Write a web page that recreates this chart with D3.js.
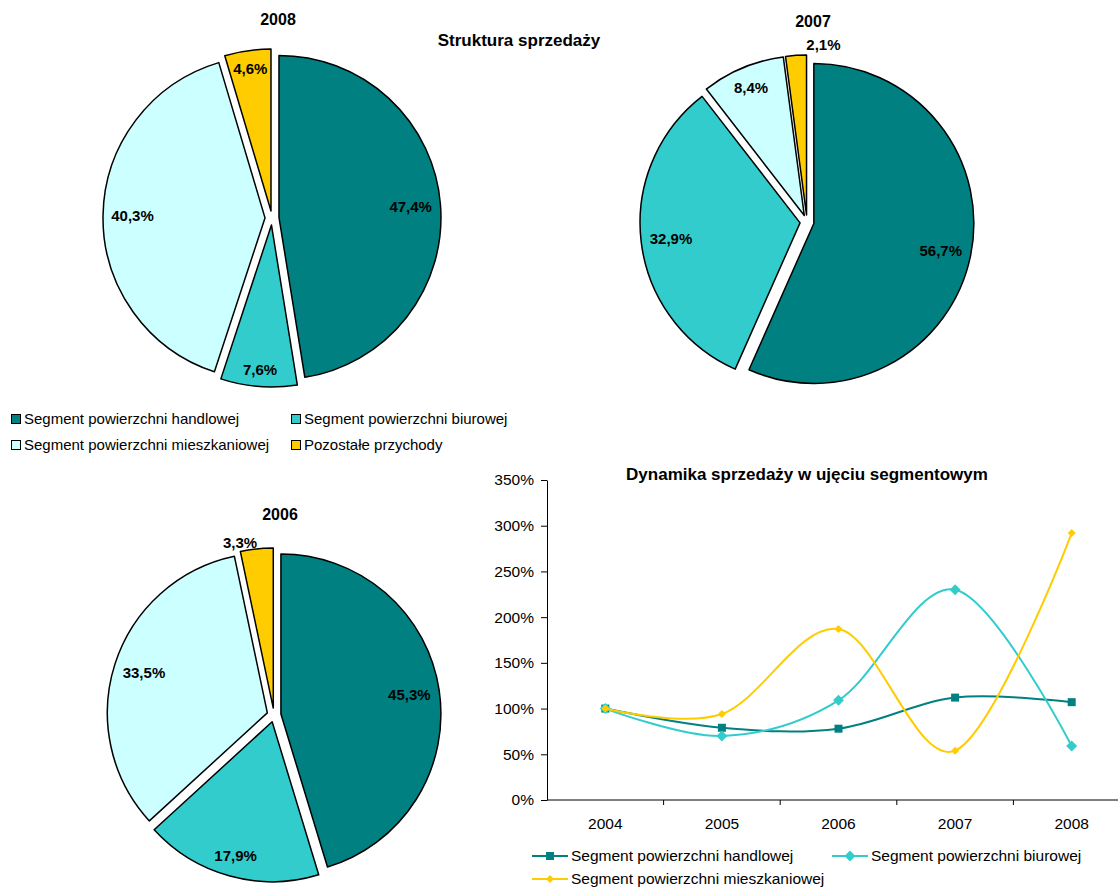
<!DOCTYPE html>
<html>
<head>
<meta charset="utf-8">
<script src="https://cdn.jsdelivr.net/npm/d3@7"></script>
<style>
  body { margin: 0; background: #fff; }
  svg { font-family: Arial, 'Liberation Sans', sans-serif; display: block; }
</style>
</head>
<body>
<div id="graf"></div>
<script>
// !DANE
const segmenty = [
  'Segment powierzchni handlowej',
  'Segment powierzchni biurowej',
  'Segment powierzchni mieszkaniowej',
  'Pozostałe przychody',
]
const udzial2008 = [47.4, 7.6, 40.3, 4.6]
const udzial2007 = [56.7, 32.9, 8.4, 2.1]
const udzial2006 = [45.3, 17.9, 33.5, 3.3]

const lata = ['2004', '2005', '2006', '2007', '2008']
const dynHandlowa = [100, 79, 78, 112, 107]
const dynBiurowa = [100, 70, 109, 230, 59]
const dynMieszkaniowa = [100, 94, 187, 54, 292]
const yTicks = [0, 50, 100, 150, 200, 250, 300, 350]

const kolory = ['#008080', '#33cccc', '#ccffff', '#ffcc00']

const svg = d3
  .select('#graf')
  .append('svg')
  .attr('width', 1118)
  .attr('height', 887)

const fmt = (v) => String(v.toFixed(1)).replace('.', ',') + '%'

// !WYKRESY KOŁOWE
const wysun = 7
const pieLayout = d3.pie().sort(null).value((d) => d)

// przes: etykiety poza wycinkiem [dx, dy, odstęp od łuku]
const kolowe = [
  { rok: '2008', dane: udzial2008, cx: 272, cy: 218, r: 162, ty: 19, przes: {} },
  { rok: '2007', dane: udzial2007, cx: 807, cy: 222, r: 160, ty: 21, przes: { 3: [28, -2, 16] } },
  { rok: '2006', dane: udzial2006, cx: 274, cy: 715, r: 160, ty: 514, przes: { 3: [-16, 0, 13] } },
]

kolowe.forEach((k) => {
  const g = svg.append('g').attr('transform', `translate(${k.cx}, ${k.cy})`)
  const arc = d3.arc().innerRadius(0).outerRadius(k.r)
  const luki = pieLayout(k.dane)

  const kawalki = g
    .selectAll('g.slice')
    .data(luki)
    .enter()
    .append('g')
    .attr('class', 'slice')
    .attr('transform', (d) => {
      const a = (d.startAngle + d.endAngle) / 2
      return `translate(${Math.sin(a) * wysun}, ${-Math.cos(a) * wysun})`
    })

  kawalki
    .append('path')
    .attr('d', arc)
    .attr('fill', (d, i) => kolory[i])
    .attr('stroke', '#000')
    .attr('stroke-width', 1.5)
    .attr('stroke-linejoin', 'round')

  // etykiety: prostokąt tekstu wpisany w koło (jak "inside end")
  g.selectAll('text.lbl')
    .data(luki)
    .enter()
    .append('text')
    .attr('class', 'lbl')
    .attr('dy', '0.35em')
    .attr('text-anchor', 'middle')
    .attr('font-size', 15)
    .attr('font-weight', 'bold')
    .text((d) => fmt(d.data))
    .each(function (d, i) {
      const a = (d.startAngle + d.endAngle) / 2
      const ux = Math.sin(a)
      const uy = -Math.cos(a)
      const p = k.przes[i]
      let px, py
      if (p) {
        px = ux * (k.r + p[2]) + p[0]
        py = uy * (k.r + p[2]) + p[1]
      } else {
        const w = this.getComputedTextLength() / 2
        const h = 7
        const R = k.r - 1
        const b = Math.abs(ux) * w + Math.abs(uy) * h
        const t = -b + Math.sqrt(b * b - (w * w + h * h - R * R))
        px = ux * t
        py = uy * t
      }
      d3.select(this).attr('x', px).attr('y', py)
    })

  svg
    .append('text')
    .attr('x', k.cx + 6)
    .attr('y', k.ty)
    .attr('dy', '0.35em')
    .attr('text-anchor', 'middle')
    .attr('font-size', 16)
    .attr('font-weight', 'bold')
    .text(k.rok)
})

svg
  .append('text')
  .attr('x', 519)
  .attr('y', 40)
  .attr('dy', '0.35em')
  .attr('text-anchor', 'middle')
  .attr('font-size', 17)
  .attr('font-weight', 'bold')
  .text('Struktura sprzedaży')

// legenda kołowych
const legKol = svg
  .selectAll('g.legkol')
  .data(segmenty)
  .enter()
  .append('g')
  .attr('class', 'legkol')
  .attr('transform', (d, i) => `translate(${i % 2 ? 291 : 11}, ${i < 2 ? 419 : 445})`)

legKol
  .append('rect')
  .attr('x', 0.5)
  .attr('y', -4.5)
  .attr('width', 9)
  .attr('height', 9)
  .attr('fill', (d, i) => kolory[i])
  .attr('stroke', '#000')

legKol
  .append('text')
  .attr('x', 13)
  .attr('dy', '0.35em')
  .attr('font-size', 15)
  .text((d) => d)

// !WYKRES LINIOWY
const x = d3.scaleBand().domain(lata).range([547, 1130])
const y = d3.scaleLinear().domain([0, 350]).range([800, 480])

const gl = svg.append('g')

gl.append('text')
  .attr('x', 807)
  .attr('y', 474)
  .attr('dy', '0.35em')
  .attr('text-anchor', 'middle')
  .attr('font-size', 17)
  .attr('font-weight', 'bold')
  .text('Dynamika sprzedaży w ujęciu segmentowym')

const osY = gl
  .append('g')
  .attr('transform', 'translate(547, 0)')
  .call(
    d3
      .axisLeft(y)
      .tickValues(yTicks)
      .tickSize(6)
      .tickSizeOuter(0)
      .tickPadding(7)
      .tickFormat((d) => d + '%')
  )
osY.attr('font-family', null).attr('font-size', null)
osY.selectAll('text').attr('font-size', 15.5).attr('fill', '#000')
osY.selectAll('line, path').attr('stroke', '#000')

// oś X
gl.append('line')
  .attr('x1', 547)
  .attr('x2', 1130)
  .attr('y1', y(0))
  .attr('y2', y(0))
  .attr('stroke', '#000')

gl.selectAll('line.tx')
  .data(lata.slice(1))
  .enter()
  .append('line')
  .attr('class', 'tx')
  .attr('x1', (d) => x(d))
  .attr('x2', (d) => x(d))
  .attr('y1', y(0))
  .attr('y2', y(0) + 5)
  .attr('stroke', '#000')

gl.selectAll('text.lx')
  .data(lata)
  .enter()
  .append('text')
  .attr('class', 'lx')
  .attr('x', (d) => x(d) + x.bandwidth() / 2)
  .attr('y', 824)
  .attr('dy', '0.35em')
  .attr('text-anchor', 'middle')
  .attr('font-size', 15.5)
  .text((d) => d)

// romb = obrócony kwadrat
const romb = (s) => `M0,${-s}L${s},0L0,${s}L${-s},0Z`
const kwadrat = (s) => `M${-s},${-s}H${s}V${s}H${-s}Z`

const serie = [
  { nazwa: segmenty[0], dane: dynHandlowa, kolor: '#008080', marker: kwadrat(4) },
  { nazwa: segmenty[1], dane: dynBiurowa, kolor: '#33cccc', marker: romb(5.5) },
  { nazwa: segmenty[2], dane: dynMieszkaniowa, kolor: '#ffcc00', marker: romb(4) },
]

const linia = d3
  .line()
  .x((d, i) => x(lata[i]) + x.bandwidth() / 2)
  .y((d) => y(d))
  .curve(d3.curveCardinal.tension(0))

serie.forEach((s) => {
  gl.append('path')
    .attr('d', linia(s.dane))
    .attr('fill', 'none')
    .attr('stroke', s.kolor)
    .attr('stroke-width', 2)

  gl.selectAll(null)
    .data(s.dane)
    .enter()
    .append('path')
    .attr('d', s.marker)
    .attr('transform', (d, i) => `translate(${x(lata[i]) + x.bandwidth() / 2}, ${y(d)})`)
    .attr('fill', s.kolor)
})

// legenda liniowego
const legLin = gl
  .selectAll('g.leglin')
  .data(serie)
  .enter()
  .append('g')
  .attr('class', 'leglin')
  .attr('transform', (d, i) => `translate(${i === 1 ? 832 : 532}, ${i < 2 ? 856 : 879})`)

legLin
  .append('line')
  .attr('x1', 0)
  .attr('x2', 36)
  .attr('stroke', (d) => d.kolor)
  .attr('stroke-width', 2)

legLin
  .append('path')
  .attr('d', (d) => d.marker)
  .attr('transform', 'translate(18, 0)')
  .attr('fill', (d) => d.kolor)

legLin
  .append('text')
  .attr('x', 39)
  .attr('dy', '0.35em')
  .attr('font-size', 15.5)
  .text((d) => d.nazwa)
</script>
</body>
</html>
